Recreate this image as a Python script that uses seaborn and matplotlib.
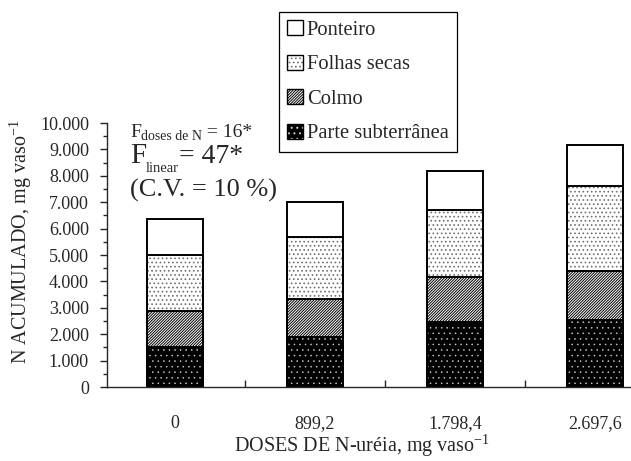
import matplotlib
matplotlib.use("Agg")
import matplotlib.pyplot as plt
import matplotlib.patches as mpatches
import seaborn as sns
import numpy as np

# ---- data ----
doses = ["0", "899,2", "1.798,4", "2.697,6"]
parte_subterranea = [1520, 1900, 2470, 2550]
colmo = [1360, 1430, 1690, 1860]
folhas_secas = [2110, 2350, 2540, 3210]
ponteiro = [1370, 1330, 1490, 1560]

series_names = ["Parte subterrânea", "Colmo", "Folhas secas", "Ponteiro"]
series_vals = [parte_subterranea, colmo, folhas_secas, ponteiro]
yticks = list(range(0, 10001, 1000))
ytick_labels = [f"{v:,}".replace(",", ".") for v in yticks]

# styles: (facecolor, hatchcolor, hatch, hatch linewidth)
styles = {
    "Parte subterrânea": ("black", "#d0d0d0", "...", 0.35),
    "Colmo": ("white", "black", "////////////", 0.7),
    "Folhas secas": ("white", "#707070", "....", 0.7),
    "Ponteiro": ("white", "white", None, 0.7),
}

sns.set_style("ticks")
plt.rcParams["font.family"] = ["Liberation Serif", "DejaVu Serif"]
plt.rcParams["mathtext.fontset"] = "custom"
plt.rcParams["mathtext.rm"] = "Liberation Serif"
plt.rcParams["hatch.linewidth"] = 0.7


def style_patch(p, fc, hc, h, hlw):
    p.set_facecolor(fc)
    p.set_edgecolor(hc)
    p.set_linewidth(0)
    if h:
        p.set_hatch(h)
        if hasattr(p, "set_hatch_linewidth"):
            p.set_hatch_linewidth(hlw)


W, H = 631, 461
fig = plt.figure(figsize=(W / 100, H / 100), dpi=100)
x0, xr = 107, -0.486
ax = fig.add_axes([x0 / W, 1 - 387 / H, (3.5 - xr) * 140 / W, 264 / H])

cum = np.cumsum(np.array(series_vals), axis=0)

for i in range(len(series_names) - 1, -1, -1):
    name = series_names[i]
    fc, hc, h, hlw = styles[name]
    n_before = len(ax.patches)
    sns.barplot(x=doses, y=list(cum[i]), order=doses, color=fc, saturation=1,
                width=0.40, edgecolor=hc, linewidth=0, errorbar=None, ax=ax)
    for p in ax.patches[n_before:]:
        style_patch(p, fc, hc, h, hlw)

for i in range(len(series_names) - 1, -1, -1):
    sns.barplot(x=doses, y=list(cum[i]), order=doses, color="black", fill=False,
                width=0.40, linewidth=1.4, errorbar=None, ax=ax)

ax.set_xlim(xr, 3.5)
ax.set_ylim(0, 10000)
sns.despine(ax=ax)
ax.spines["left"].set_linewidth(1.0)
ax.spines["bottom"].set_linewidth(1.0)

ax.set_yticks(yticks)
ax.set_yticklabels(ytick_labels, fontsize=13)
ax.set_yticks(np.arange(500, 10000, 1000), minor=True)
ax.tick_params(axis="y", which="major", length=5, width=1, direction="out", pad=8)
ax.tick_params(axis="y", which="minor", length=3, width=1, direction="out")

ax.set_xticks(range(len(doses)))
ax.set_xticklabels(doses, fontsize=13)
ax.set_xticks([0.5, 1.5, 2.5], minor=True)
ax.tick_params(axis="x", which="major", length=0, pad=20)
ax.tick_params(axis="x", which="minor", length=5, width=1, direction="in")

axw = (3.5 - xr) * 140
ax.set_xlabel(r"DOSES DE N-uréia, mg vaso$^{\mathregular{-1}}$", fontsize=14.5)
ax.xaxis.set_label_coords((362 - x0) / axw, (387 - 452) / 264)
ax.xaxis.label.set_va("baseline")
ax.set_ylabel(r"N ACUMULADO, mg vaso$^{\mathregular{-1}}$", fontsize=14.5)
ax.yaxis.set_label_coords((21 - x0) / axw, (387 - 242) / 264)
ax.yaxis.label.set_va("center")

# legend
handles = []
for name in ["Ponteiro", "Folhas secas", "Colmo", "Parte subterrânea"]:
    fc, hc, h, hlw = styles[name]
    p1 = mpatches.Patch(facecolor=fc, edgecolor=hc, hatch=h, linewidth=0)
    if h and hasattr(p1, "set_hatch_linewidth"):
        p1.set_hatch_linewidth(hlw)
    p2 = mpatches.Patch(facecolor="none", edgecolor="black", linewidth=1.0)
    handles.append((p1, p2))
leg = fig.legend(handles, ["Ponteiro", "Folhas secas", "Colmo", "Parte subterrânea"],
                 loc="upper left", bbox_to_anchor=(279 / W, 1 - 12 / H),
                 bbox_transform=fig.transFigure, borderaxespad=0, fontsize=14.8,
                 frameon=True, fancybox=False, shadow=False, framealpha=1,
                 edgecolor="black", borderpad=0.4, labelspacing=0.72,
                 handlelength=0.75, handleheight=0.75, handletextpad=0.2)
leg.get_frame().set_linewidth(0.9)

fig.canvas.draw()
renderer = fig.canvas.get_renderer()


def chain(parts, x_px, base_px):
    x = x_px
    for txt, size, dy in parts:
        t = fig.text(x / W, 1 - (base_px + dy) / H, txt, fontsize=size,
                     ha="left", va="baseline")
        bb = t.get_window_extent(renderer)
        x = bb.x1


chain([("F", 14, 0), ("doses de N", 10, 3), (" = 16*", 14, 0)], 130, 137)
chain([("F", 21, 0), ("linear", 10.5, 9), ("= 47*", 20, 0)], 130, 163)
chain([("(C.V. = 10 %)", 19, 0)], 130, 197)

fig.savefig("out.png", dpi=100)
